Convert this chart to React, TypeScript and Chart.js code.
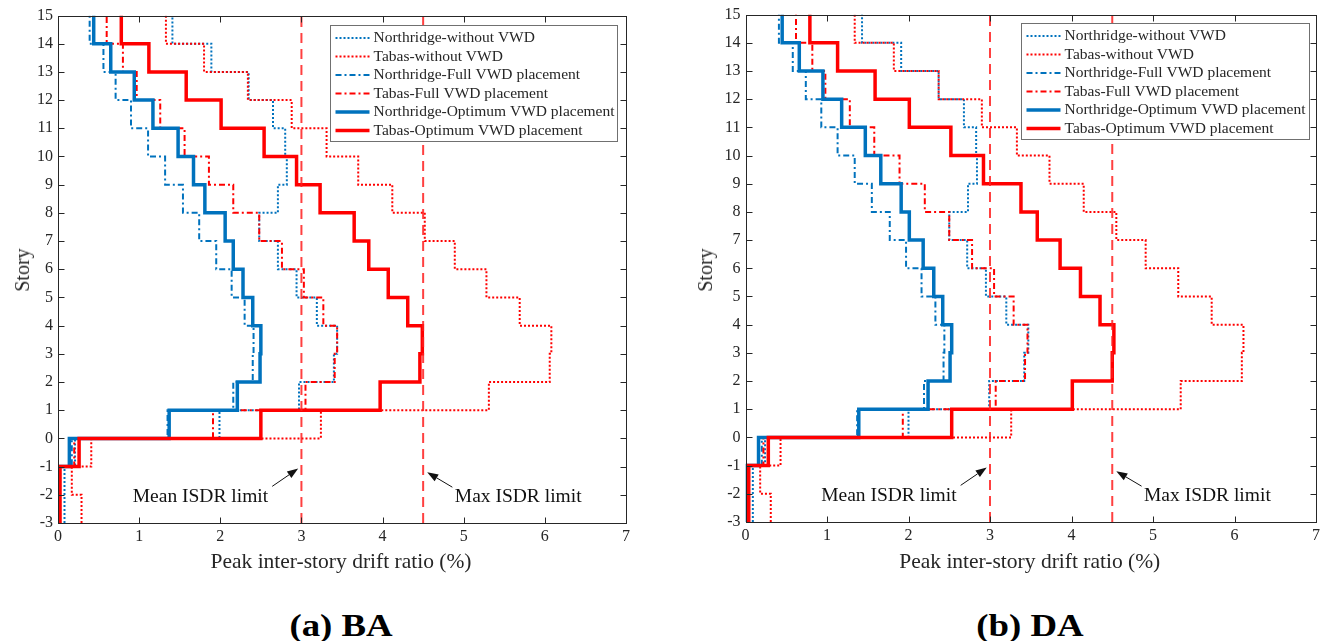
import React, { useEffect, useRef } from "react";
import { Chart, registerables } from "chart.js";

Chart.register(...registerables);

// ---------- data ----------
const STORY_LEVELS = [-3, -2, -1, 0, 1, 2, 3, 4, 5, 6, 7, 8, 9, 10, 11, 12, 13, 14, 15];
const X_TICKS = [0, 1, 2, 3, 4, 5, 6, 7];
const MEAN_ISDR_LIMIT = 3;
const MAX_ISDR_LIMIT = 4.5;

const SERIES_LABELS = [
  "Northridge-without VWD",
  "Tabas-without VWD",
  "Northridge-Full VWD placement",
  "Tabas-Full VWD placement",
  "Northridge-Optimum VWD placement",
  "Tabas-Optimum VWD placement",
];

// peak drift (%) per story interval, from [-3,-2] up to [14,15]
const BA_NORTHRIDGE_WITHOUT = [0.08, 0.08, 0.21, 1.99, 2.97, 3.4, 3.44, 3.19, 2.94, 2.71, 2.48, 2.71, 2.82, 2.8, 2.65, 2.35, 1.89, 1.41];
const BA_TABAS_WITHOUT = [0.29, 0.17, 0.41, 3.24, 5.31, 6.06, 6.08, 5.69, 5.28, 4.89, 4.52, 4.12, 3.7, 3.31, 2.88, 2.34, 1.8, 1.33];
const BA_NORTHRIDGE_FULL = [0.02, 0.02, 0.17, 1.35, 2.16, 2.4, 2.41, 2.3, 2.14, 1.95, 1.74, 1.54, 1.32, 1.11, 0.9, 0.71, 0.56, 0.39];
const BA_TABAS_FULL = [0.02, 0.02, 0.2, 1.91, 3.05, 3.41, 3.44, 3.27, 3.03, 2.76, 2.48, 2.16, 1.86, 1.56, 1.26, 0.97, 0.8, 0.6];
const BA_NORTHRIDGE_OPT = [0.01, 0.01, 0.14, 1.37, 2.21, 2.49, 2.5, 2.4, 2.28, 2.16, 2.06, 1.81, 1.67, 1.48, 1.17, 0.94, 0.65, 0.44];
const BA_TABAS_OPT = [0.025, 0.025, 0.26, 2.5, 3.97, 4.46, 4.49, 4.31, 4.07, 3.83, 3.65, 3.23, 2.94, 2.54, 2.01, 1.58, 1.12, 0.78];

const DA_NORTHRIDGE_WITHOUT = [0.09, 0.09, 0.24, 2.0, 2.99, 3.42, 3.47, 3.2, 2.95, 2.72, 2.5, 2.73, 2.84, 2.83, 2.68, 2.37, 1.91, 1.43];
const DA_TABAS_WITHOUT = [0.31, 0.18, 0.43, 3.26, 5.34, 6.09, 6.11, 5.72, 5.31, 4.91, 4.55, 4.15, 3.73, 3.33, 2.9, 2.37, 1.82, 1.34];
const DA_NORTHRIDGE_FULL = [0.03, 0.03, 0.2, 1.37, 2.19, 2.43, 2.44, 2.33, 2.16, 1.97, 1.77, 1.55, 1.34, 1.13, 0.93, 0.74, 0.58, 0.41];
const DA_TABAS_FULL = [0.03, 0.03, 0.22, 1.93, 3.07, 3.43, 3.46, 3.29, 3.05, 2.78, 2.5, 2.2, 1.89, 1.58, 1.28, 0.98, 0.82, 0.62];
const DA_NORTHRIDGE_OPT = [0.02, 0.02, 0.16, 1.39, 2.24, 2.51, 2.53, 2.42, 2.31, 2.18, 2.01, 1.91, 1.66, 1.47, 1.18, 0.95, 0.66, 0.45];
const DA_TABAS_OPT = [0.04, 0.04, 0.28, 2.53, 4.01, 4.5, 4.52, 4.35, 4.11, 3.86, 3.58, 3.38, 2.92, 2.52, 2.01, 1.59, 1.13, 0.79];

// annotation anchors (data units)
const MEAN_LABEL = { text: "Mean ISDR limit", x: 2.59, y: -2.08, align: "right" as const, tail: [2.64, -1.7], tip: [2.96, -1.07] };
const MAX_LABEL = { text: "Max ISDR limit", x: 4.89, y: -2.08, align: "left" as const, tail: [4.86, -1.73], tip: [4.55, -1.2] };

// ---------- styles ----------
const FONT = '"Liberation Serif", "Times New Roman", Times, serif';
const BLUE = "#0072BD";
const RED = "#FF0000";
const AXIS_COLOR = "#262626";
const SERIES_STYLES = [
  { color: BLUE, width: 2, dash: [2, 2] },
  { color: RED, width: 2, dash: [2, 2] },
  { color: BLUE, width: 2, dash: [6, 3, 2, 3] },
  { color: RED, width: 2, dash: [6, 3, 2, 3] },
  { color: BLUE, width: 3.5, dash: [] as number[] },
  { color: RED, width: 3.5, dash: [] as number[] },
];
const PANEL_W = 663;
const CANVAS_H = 560;
const X_AXIS_H = 30;

type Area = { l: number; r: number; t: number; b: number };
type LegendBox = { rightInset: number; topInset: number; w: number; h: number };

function stepPoints(values: number[]) {
  return STORY_LEVELS.map((y, i) => ({ x: values[Math.min(i, values.length - 1)], y }));
}

function Panel(props: {
  left: number;
  area: Area;
  series: number[][];
  legend: LegendBox;
  caption: string;
  storyX: number;
}) {
  const ref = useRef<HTMLCanvasElement>(null);
  const { area, legend } = props;

  useEffect(() => {
    const canvas = ref.current;
    if (!canvas) return;

    const datasets: any[] = props.series.map((vals, i) => ({
      label: SERIES_LABELS[i],
      data: stepPoints(vals),
      borderColor: SERIES_STYLES[i].color,
      borderWidth: SERIES_STYLES[i].width,
      borderDash: SERIES_STYLES[i].dash,
      stepped: "after",
      pointRadius: 0,
      fill: false,
      order: 10 - i,
    }));
    [MEAN_ISDR_LIMIT, MAX_ISDR_LIMIT].forEach((lim) => {
      datasets.push({
        label: "limit",
        data: [
          { x: lim, y: STORY_LEVELS[0] },
          { x: lim, y: STORY_LEVELS[STORY_LEVELS.length - 1] },
        ],
        borderColor: "rgba(255,30,30,0.85)",
        borderWidth: 2,
        borderDash: [10, 6],
        pointRadius: 0,
        fill: false,
        order: 0,
      });
    });

    const framePlugin = {
      id: "frame",
      afterDatasetsDraw(chart: any) {
        const { ctx, chartArea: a, scales } = chart;
        ctx.save();
        ctx.strokeStyle = AXIS_COLOR;
        ctx.lineWidth = 1;
        const L = Math.round(a.left) + 0.5, R = Math.round(a.right) + 0.5;
        const T = Math.round(a.top) + 0.5, B = Math.round(a.bottom) + 0.5;
        ctx.strokeRect(L, T, R - L, B - T);
        ctx.beginPath();
        X_TICKS.forEach((v) => {
          const px = Math.round(scales.x.getPixelForValue(v)) + 0.5;
          ctx.moveTo(px, B); ctx.lineTo(px, B - 6);
          ctx.moveTo(px, T); ctx.lineTo(px, T + 6);
        });
        STORY_LEVELS.forEach((v) => {
          const py = Math.round(scales.y.getPixelForValue(v)) + 0.5;
          ctx.moveTo(L, py); ctx.lineTo(L + 6, py);
          ctx.moveTo(R, py); ctx.lineTo(R - 6, py);
        });
        ctx.stroke();
        ctx.restore();
      },
    };

    const legendPlugin = {
      id: "boxLegend",
      afterDatasetsDraw(chart: any) {
        const { ctx, chartArea: a } = chart;
        const x0 = Math.round(a.right - legend.rightInset - legend.w) + 0.5;
        const y0 = Math.round(a.top + legend.topInset) + 0.5;
        ctx.save();
        ctx.fillStyle = "#ffffff";
        ctx.fillRect(x0, y0, legend.w, legend.h);
        ctx.strokeStyle = "#707070";
        ctx.lineWidth = 1;
        ctx.strokeRect(x0, y0, legend.w, legend.h);
        SERIES_LABELS.forEach((label, i) => {
          const st = SERIES_STYLES[i];
          const yy = y0 + 12.5 + i * 18.5;
          ctx.beginPath();
          ctx.strokeStyle = st.color;
          ctx.lineWidth = st.width;
          ctx.setLineDash(st.dash);
          ctx.moveTo(x0 + 5, yy);
          ctx.lineTo(x0 + 39, yy);
          ctx.stroke();
          ctx.setLineDash([]);
          ctx.fillStyle = AXIS_COLOR;
          ctx.font = `15.5px ${FONT}`;
          ctx.textAlign = "left";
          ctx.textBaseline = "middle";
          ctx.fillText(label, x0 + 43, yy);
        });
        ctx.restore();
      },
    };

    const annotationPlugin = {
      id: "limitNotes",
      afterDatasetsDraw(chart: any) {
        const { ctx, scales } = chart;
        const X = (v: number) => scales.x.getPixelForValue(v);
        const Y = (v: number) => scales.y.getPixelForValue(v);
        ctx.save();
        [MEAN_LABEL, MAX_LABEL].forEach((n) => {
          ctx.fillStyle = "#111";
          ctx.font = `19.5px ${FONT}`;
          ctx.textAlign = n.align;
          ctx.textBaseline = "middle";
          ctx.fillText(n.text, X(n.x), Y(n.y));
          const tx = X(n.tail[0]), ty = Y(n.tail[1]);
          const hx = X(n.tip[0]), hy = Y(n.tip[1]);
          const ang = Math.atan2(hy - ty, hx - tx);
          const len = 11, half = 4;
          const bx = hx - len * Math.cos(ang), by = hy - len * Math.sin(ang);
          ctx.strokeStyle = "#111";
          ctx.lineWidth = 1;
          ctx.beginPath();
          ctx.moveTo(tx, ty);
          ctx.lineTo(bx, by);
          ctx.stroke();
          ctx.beginPath();
          ctx.moveTo(hx, hy);
          ctx.lineTo(bx - half * Math.sin(ang), by + half * Math.cos(ang));
          ctx.lineTo(bx + half * Math.sin(ang), by - half * Math.cos(ang));
          ctx.closePath();
          ctx.fill();
        });
        ctx.restore();
      },
    };

    const tickFont = { family: FONT, size: 16 };
    const chart = new Chart(canvas, {
      type: "line",
      data: { datasets },
      options: {
        animation: false,
        responsive: false,
        events: [],
        layout: {
          padding: {
            left: 0,
            right: PANEL_W - area.r,
            top: area.t,
            bottom: CANVAS_H - area.b - X_AXIS_H,
          },
        },
        plugins: { legend: { display: false }, tooltip: { enabled: false } },
        scales: {
          x: {
            type: "linear",
            min: X_TICKS[0],
            max: X_TICKS[X_TICKS.length - 1],
            afterBuildTicks: (s: any) => { s.ticks = X_TICKS.map((v) => ({ value: v })); },
            afterFit: (s: any) => { s.height = X_AXIS_H; },
            ticks: { font: tickFont, color: AXIS_COLOR, padding: 4, maxRotation: 0, autoSkip: false, callback: (v: any) => String(v) },
            grid: { display: false, drawTicks: false },
            border: { display: false },
          },
          y: {
            type: "linear",
            min: STORY_LEVELS[0],
            max: STORY_LEVELS[STORY_LEVELS.length - 1],
            afterBuildTicks: (s: any) => { s.ticks = STORY_LEVELS.map((v) => ({ value: v })); },
            afterFit: (s: any) => { s.width = area.l; },
            ticks: { font: tickFont, color: AXIS_COLOR, padding: 5, autoSkip: false, callback: (v: any) => String(v) },
            grid: { display: false, drawTicks: false },
            border: { display: false },
          },
        },
      } as any,
      plugins: [framePlugin, legendPlugin, annotationPlugin],
    });
    return () => chart.destroy();
  }, []);

  const cx = (area.l + area.r) / 2 - 1;
  const textBase: React.CSSProperties = {
    position: "absolute",
    whiteSpace: "nowrap",
    lineHeight: 1,
    fontFamily: FONT,
    color: AXIS_COLOR,
  };
  return (
    <div style={{ position: "absolute", left: props.left, top: 0, width: PANEL_W, height: 641 }}>
      <canvas
        ref={ref}
        width={PANEL_W}
        height={CANVAS_H}
        style={{ position: "absolute", left: 0, top: 0, width: PANEL_W, height: CANVAS_H }}
      />
      <div style={{ ...textBase, left: cx, top: 562, fontSize: 21.5, transform: "translate(-50%,-50%)" }}>
        Peak inter-story drift ratio (%)
      </div>
      <div style={{ ...textBase, left: props.storyX, top: 270, fontSize: 20, transform: "translate(-50%,-50%) rotate(-90deg)" }}>
        Story
      </div>
      <div style={{ ...textBase, left: cx, top: 625, fontSize: 32, fontWeight: "bold", color: "#000", transform: "translate(-50%,-50%) scaleX(1.15)" }}>
        {props.caption}
      </div>
    </div>
  );
}

export default function App() {
  return (
    <div style={{ position: "fixed", left: 0, top: 0, width: 1326, height: 641, background: "#fff", overflow: "hidden" }}>
      <Panel
        left={0}
        area={{ l: 58, r: 626, t: 15.5, b: 523 }}
        series={[BA_NORTHRIDGE_WITHOUT, BA_TABAS_WITHOUT, BA_NORTHRIDGE_FULL, BA_TABAS_FULL, BA_NORTHRIDGE_OPT, BA_TABAS_OPT]}
        legend={{ rightInset: 9, topInset: 9.5, w: 287, h: 116 }}
        caption="(a) BA"
        storyX={22}
      />
      <Panel
        left={663}
        area={{ l: 82.5, r: 653, t: 14, b: 522 }}
        series={[DA_NORTHRIDGE_WITHOUT, DA_TABAS_WITHOUT, DA_NORTHRIDGE_FULL, DA_TABAS_FULL, DA_NORTHRIDGE_OPT, DA_TABAS_OPT]}
        legend={{ rightInset: 7, topInset: 8.7, w: 288, h: 116 }}
        caption="(b) DA"
        storyX={42}
      />
    </div>
  );
}
